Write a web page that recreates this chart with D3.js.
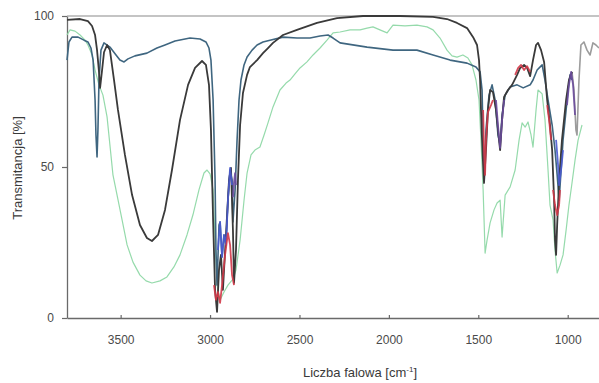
<!DOCTYPE html>
<html><head><meta charset="utf-8">
<script src="https://cdn.jsdelivr.net/npm/d3@7"></script>
<style>html,body{margin:0;padding:0;background:#fff;}svg{display:block;}</style>
</head><body>
<svg id="c" width="599" height="383"></svg>
<script>
// ---- data (wavenumber cm^-1, transmittance %) ----
const xTicks = [3500, 3000, 2500, 2000, 1500, 1000];
const yTicks = [0, 50, 100];

const darkWn = [3800,3727,3683,3660,3643,3632,3621,3615,3604,3593,3576,3560,3537,3515,3476,3436,3392,3353,3325,3291,3252,3213,3168,3123,3084,3045,3023,3006,2995,2983,2972,2961,2950,2939,2928,2911,2894,2883,2872,2866,2855,2844,2832,2816,2793,2777,2737,2704,2676,2648,2592,2514,2402,2290,2145,1938,1753,1675,1619,1563,1529,1507,1496,1490,1485,1479,1473,1468,1457,1446,1434,1418,1401,1384,1378,1367,1356,1334,1311,1283,1266,1244,1227,1210,1194,1177,1166,1149,1132,1115,1099,1087,1076,1071,1065,1059,1048,1032,1009,993,976];
const darkT  = [98.7,99,98.3,96.7,93.7,88.7,81.5,76.2,82,88,90.4,88.7,78.8,68.9,54,40.7,30.8,26.5,25.5,27.5,35.8,49,65.6,77.2,82.8,85.1,83.8,77.2,62.3,32.5,9.3,2,15.9,20.9,9.3,27.5,45.7,49.7,29.1,11.6,22.5,45.7,63.9,74.5,80.5,83.1,85.4,87.7,89.4,91.1,93.7,95.4,97.7,99.3,100,100,99.7,99,97.7,96,93,90.4,85.4,78.8,68.9,59,50.7,44.7,55.6,68.9,75.5,74.8,68.9,59,55.6,65.6,73.2,75.5,77.2,80.5,82.8,83.8,82.8,80.1,85.4,90.4,91.1,88.7,84.8,72.2,63.9,55.6,39,25.8,20.9,30.8,45.7,59,72.2,78.8,81.5];

const tailWn = [976,965,954,948,937,926,909,892,875,859,842,825];
const tailT  = [81.5,75.5,62.3,60.6,78.8,90.4,91.4,88.7,87.1,91.1,90.4,89.4];

const blueWn = [3800,3789,3772,3738,3705,3683,3666,3654,3643,3638,3632,3627,3621,3610,3593,3560,3526,3504,3481,3459,3420,3353,3297,3252,3196,3112,3056,3023,3006,2995,2983,2972,2967,2961,2950,2944,2933,2922,2911,2900,2888,2877,2872,2860,2849,2838,2827,2810,2793,2765,2737,2704,2665,2592,2514,2441,2385,2340,2312,2273,2122,1977,1843,1753,1658,1563,1513,1490,1479,1473,1468,1457,1440,1423,1406,1390,1378,1367,1350,1322,1283,1249,1210,1194,1171,1143,1127,1110,1087,1071,1059,1048,1037,1026,1009,998,987,976];
const blueT  = [85.4,91.4,93,93,92,91.4,89.4,85.4,72.2,60.6,53.3,62.3,78.8,88.7,91.1,89.7,87.1,85.4,84.8,85.8,86.8,87.7,89.4,90.4,91.7,92.7,92.4,91.4,89.4,85.4,72.2,45.7,22.5,10.9,30.8,31.8,20.2,27.5,24.2,39,49,45.7,31.8,42.4,58.9,72.2,78.8,83.8,86.4,88.7,90.4,91.4,92,93,92.7,92.7,93.4,93.7,92.7,91.1,89.7,88.7,88.7,87.1,85.4,84.4,83.1,81.5,75.5,59,47.4,62.3,73.8,77.2,72.2,60.6,57.3,67.2,73.8,76.5,77.2,76.2,77.2,78.8,82.1,83.8,78.8,72.2,63.9,55.6,47.4,39,49,59,68.9,75.5,80.5,78.8];

const greenWn = [3800,3783,3755,3727,3699,3683,3671,3660,3643,3621,3599,3576,3560,3543,3520,3492,3464,3431,3392,3358,3325,3280,3241,3202,3168,3129,3096,3062,3034,3017,3000,2983,2972,2961,2944,2922,2900,2872,2855,2832,2810,2793,2771,2749,2721,2698,2676,2648,2609,2575,2553,2525,2497,2458,2424,2385,2346,2312,2273,2217,2161,2122,2089,2050,2010,1977,1910,1843,1787,1753,1714,1675,1647,1619,1586,1558,1535,1513,1496,1485,1473,1462,1451,1434,1412,1395,1378,1367,1350,1322,1294,1272,1255,1238,1222,1205,1194,1177,1166,1143,1127,1110,1099,1082,1071,1059,1043,1026,1009,993,976,959,942,920];
const greenT  = [93.7,95.4,95,93.7,92,90.4,88.7,87.1,82.1,77.2,73.8,66.6,57.3,47.4,40.7,32.5,24.2,18.5,14.2,12.3,11.6,12.3,13.6,16.9,20.9,27.5,34.1,42.4,48,49,47.7,42.4,25.8,10.9,6,8.6,10.9,12.9,15.9,25.8,39,48,54,55.6,56.6,60.6,64.6,69.9,75.5,77.8,78.8,80.8,82.8,84.8,87.1,89.4,92,94.4,94.7,95.4,95.4,96,96.4,95.4,94.4,97,96.7,97,96.4,95.4,92.7,88.7,86.8,86.4,87.1,86.1,83.8,78.8,72.2,58.9,42.4,21.5,25.8,31.5,35.8,38.1,39,26.8,40.7,43.4,49,58.9,64.6,63.2,64.9,60.6,56.6,68.9,75.5,74.2,65.6,49,37.4,32.5,22.5,14.9,17.5,20.9,29.1,37.4,44.7,52.3,58.9,63.9];

// coloured overlay fragments (null = gap)
const redWn = [2978,2967,2956,2944,2933,2916,2900,2888,2877,2866,null,1473,1468,1462,1457,1446,1429,1418,null,1294,1277,1261,1244,1227,1210,null,1115,1104,1093,null,1082,1071,1059,1048,1043];
const redT  = [10.9,6,8.6,5,10.9,20.9,28.1,24.2,14.2,10.9,null,68.9,55.6,47.4,59,68.2,70.5,72.2,null,80.5,82.8,83.8,82.1,83.4,81.5,null,70.5,65.6,59,null,42.4,37.4,34.1,37.4,42.4];

const purpleWn = [2872,2866,2860,2855,null,1401,1390,1378,1367,1356,null,1004,993,981,970,959];
const purpleT  = [40,45,48,44,null,72.2,63.9,56.3,65.6,72.2,null,70.5,77.2,81.5,77.2,67.2];

const vividWn = [2956,2944,2933,2922,2911,2900,2888,2877,null,1065,1054,1048,1037,1026];
const vividT  = [22.5,31.8,20.2,27.5,24.2,39,49.7,44,null,59,50.7,44,49,55.6];

// ---- chart ----
const svg = d3.select("#c");
const x = d3.scaleLinear().domain([3800, 825]).range([67, 599]);
const y = d3.scaleLinear().domain([0, 100]).range([318, 16]);
const font = "'Liberation Sans', Arial, sans-serif";

const series = [
  {wn: greenWn, t: greenT, color: "#8fd8a6", w: 1.2, op: 0.95},
  {wn: tailWn, t: tailT, color: "#9c9c9c", w: 1.6, op: 1},
  {wn: blueWn, t: blueT, color: "#3f6680", w: 1.6, op: 1},
  {wn: darkWn, t: darkT, color: "#3a3a3a", w: 1.8, op: 1},
  {wn: vividWn, t: vividT, color: "#4a5bd0", w: 1.8, op: 0.9},
  {wn: purpleWn, t: purpleT, color: "#6a4a9c", w: 1.8, op: 0.9},
  {wn: redWn, t: redT, color: "#d23848", w: 1.8, op: 0.9}
];

const line = d3.line()
  .defined(d => d[0] !== null && d[1] !== null)
  .x(d => x(d[0])).y(d => y(d[1]));

// axes
const xAxis = d3.axisBottom(x).tickValues(xTicks).tickFormat(d3.format("d"))
  .tickSizeInner(-3).tickSizeOuter(0).tickPadding(17);
const gx = svg.append("g").attr("transform", "translate(0,318)").call(xAxis);
const yAxis = d3.axisLeft(y).tickValues(yTicks).tickFormat(d3.format("d"))
  .tickSizeInner(5).tickSizeOuter(0).tickPadding(8);
const gy = svg.append("g").attr("transform", "translate(67,0)").call(yAxis);
[gx, gy].forEach(g => {
  g.select(".domain").attr("stroke", "#6a6a6a").attr("stroke-width", 1.3);
  g.selectAll(".tick line").attr("stroke", "#6a6a6a").attr("stroke-width", 1.2);
  g.selectAll(".tick text").attr("fill", "#4a4a4a").style("font-family", font).style("font-size", "12px");
});

// top frame line
svg.append("line")
  .attr("x1", x(3800)).attr("x2", x(825))
  .attr("y1", y(100)).attr("y2", y(100))
  .attr("stroke", "#8a8a8a").attr("stroke-width", 1.2);

// series
series.forEach(s => {
  svg.append("path")
    .datum(s.wn.map((w, i) => [w, s.t[i]]))
    .attr("d", line)
    .attr("fill", "none")
    .attr("stroke", s.color)
    .attr("stroke-width", s.w)
    .attr("stroke-opacity", s.op)
    .attr("stroke-linejoin", "round");
});

// axis titles
const xt = svg.append("text")
  .attr("x", 360).attr("y", 377)
  .attr("text-anchor", "middle")
  .attr("fill", "#3a3a3a")
  .style("font-family", font).style("font-size", "13px");
xt.append("tspan").text("Liczba falowa [cm");
xt.append("tspan").attr("dy", -5).style("font-size", "8px").text("-1");
xt.append("tspan").attr("dy", 5).text("]");

svg.append("text")
  .attr("transform", "translate(22,168) rotate(-90)")
  .attr("text-anchor", "middle")
  .attr("fill", "#3a3a3a")
  .style("font-family", font).style("font-size", "13px")
  .text("Transmitancja [%]");
</script>
</body></html>
